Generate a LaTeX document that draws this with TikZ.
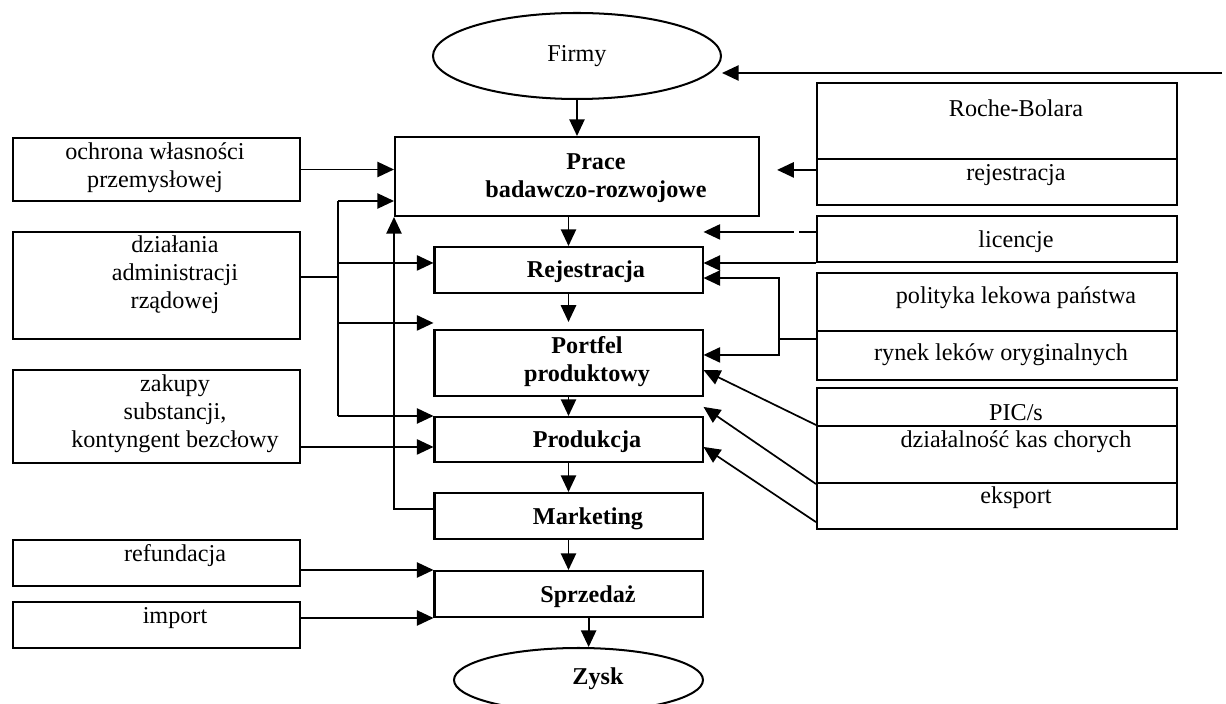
\documentclass[tikz,border=0pt]{standalone}
\usepackage{fontspec}
\setmainfont{Liberation Serif}
\usepackage{tikz}
\usetikzlibrary{arrows.meta,shapes.geometric}
\newcommand{\pxu}{0.4965pt}

\begin{document}
\begin{tikzpicture}[x=\pxu,y=-\pxu,
  box/.style 2 args={draw,line width=1pt,inner sep=0pt,
    minimum width=#1*\pxu,minimum height=#2*\pxu},
  oval/.style 2 args={draw,ellipse,line width=1pt,inner sep=0pt,
    minimum width=#1*\pxu,minimum height=#2*\pxu},
  txt/.style={inner sep=0pt,align=center,font=\fontsize{12}{13.9}\selectfont},
  bold/.style={txt,font=\fontsize{12}{13.9}\selectfont\bfseries},
  con/.style={line width=0.85pt},
  arr/.style={con,-{Triangle[length=8.3pt,width=7.6pt]}}]
\useasboundingbox (0,0) rectangle (1226,704);

% lewa kolumna
\node[box={287}{63}]  (ochrona) at (156.5,169.5) {};
\node[txt] (ochrona-t) at (155,167.5) {ochrona własności\\przemysłowej};
\node[box={287}{107}] (dzialania) at (156.5,285.5) {};
\node[txt] (dzialania-t) at (175,275) {działania\\administracji\\rządowej};
\node[box={287}{93}]  (zakupy) at (156.5,416.5) {};
\node[txt] (zakupy-t) at (175,413.5) {zakupy\\substancji,\\kontyngent bezcłowy};
\node[box={287}{46}]  (refundacja) at (156.5,563) {};
\node[txt] (refundacja-t) at (175,556) {refundacja};
\node[box={287}{46}]  (import) at (156.5,625) {};
\node[txt] (import-t) at (175,618) {import};

% srodek
\node[oval={288}{86},txt] (firmy) at (577,56) {Firmy};
\node[box={364}{79}] (prace) at (577,176.5) {};
\node[bold] (prace-t) at (596,178) {Prace\\badawczo-rozwojowe};
\node[box={268}{46}] (rejestr) at (568.5,270) {};
\node[bold] (rejestr-t) at (586,272) {Rejestracja};
\node[box={268}{66}] (portfel) at (568.5,363) {};
\node[bold] (portfel-t) at (587,361.5) {Portfel\\produktowy};
\node[box={268}{45}] (produkcja) at (568.5,439.5) {};
\node[bold] (produkcja-t) at (587,442) {Produkcja};
\node[box={268}{46}] (marketing) at (568.5,516) {};
\node[bold] (marketing-t) at (588,519) {Marketing};
\node[box={268}{46}] (sprzedaz) at (568.5,594) {};
\node[bold] (sprzedaz-t) at (588,597) {Sprzedaż};
\node[oval={249}{64}] (zysk) at (578.5,680) {};
\node[bold] (zysk-t) at (598,679) {Zysk};

% prawa kolumna
\node[box={360}{76}] (roche) at (997,121) {};
\node[txt] (roche-t) at (1016,108) {Roche-Bolara};
\node[box={360}{46}] (rejR) at (997,182) {};
\node[txt] (rejR-t) at (1016,175) {rejestracja};
\node[box={360}{46}] (licencje) at (997,239) {};
\node[txt] (licencje-t) at (1016,242) {licencje};
\node[box={360}{58}] (polityka) at (997,302) {};
\node[txt] (polityka-t) at (1016,298) {polityka lekowa państwa};
\node[box={360}{49}] (rynek) at (997,355.5) {};
\node[txt] (rynek-t) at (1001,355) {rynek leków oryginalnych};
\node[box={360}{38}] (pics) at (997,407) {};
\node[txt] (pics-t) at (1016,413) {PIC/s};
\node[box={360}{57}] (kasy) at (997,454.5) {};
\node[txt] (kasy-t) at (1016,442) {działalność kas chorych};
\node[box={360}{46}] (eksport) at (997,506) {};
\node[txt] (eksport-t) at (1016,498) {eksport};

% glowny ciag
\coordinate (topR) at (1222,73);
\draw[arr] (topR) -- (topR -| firmy.east);
\draw[arr] (firmy.south) -- (prace.north);
\draw[arr] (rejestr.north |- prace.south) -- (rejestr.north);
\draw[arr] (rejestr.south) -- ([yshift=3.5pt]portfel.north);
\draw[arr] (portfel.south) -- (produkcja.north);
\draw[arr] (produkcja.south) -- (marketing.north);
\draw[arr] (marketing.south) -- (sprzedaz.north);
\draw[arr] ([xshift=10pt]sprzedaz.south) -- ([xshift=10pt]sprzedaz.south |- zysk.north);

% wejscia z lewej
\draw[arr] (ochrona.east) -- (ochrona.east -| prace.west);
\coordinate (bus) at (338,201);
\coordinate (busMid) at (338,277);
\coordinate (toRej) at ([yshift=3.5pt]rejestr.west);
\coordinate (toPort) at ([yshift=3pt]portfel.north west);
\draw[con] (busMid -| dzialania.east) -- (busMid);
\draw[con] (bus) -- (bus |- produkcja.north west);
\draw[arr] (bus) -- (bus -| prace.west);
\draw[arr] (bus |- toRej) -- (toRej);
\draw[arr] (bus |- toPort) -- (toPort);
\draw[arr] (bus |- produkcja.north west) -- (produkcja.north west);
\coordinate (toProd) at ([yshift=-3.7pt]produkcja.west);
\draw[arr] (toProd -| zakupy.east) -- (toProd);
\coordinate (fromMkt) at ([yshift=3.5pt]marketing.west);
\draw[arr] (fromMkt) -| (prace.south west);
\draw[arr] (sprzedaz.north west -| refundacja.east) -- (sprzedaz.north west);
\draw[arr] (sprzedaz.south west -| import.east) -- (sprzedaz.south west);

% wejscia z prawej
\coordinate (fromRoche) at ([yshift=6pt]rejR.west);
\draw[arr,shorten >=8.5pt] (fromRoche) -- (fromRoche -| prace.east);
\coordinate (fromLic) at ([yshift=3.5pt]licencje.west);
\draw[arr,dash pattern=on 8.5pt off 2.5pt on 200pt] (fromLic) -- (fromLic -| rejestr.east);
\draw[arr] (licencje.south west) -- (licencje.south west -| rejestr.east);
\coordinate (brk) at (779,339);
\draw[arr] (brk -| rynek.west) -- (brk) |- ([yshift=-4pt]rejestr.east);
\draw[arr] (brk) |- ([yshift=4pt]portfel.east);
\draw[arr] (kasy.north west) -- ([yshift=-3.5pt]portfel.east);
\draw[arr] (kasy.south west) -- ([yshift=4.5pt]produkcja.north east);
\draw[arr] ([yshift=-8pt]eksport.west) -- ([yshift=-3.7pt]produkcja.east);
\end{tikzpicture}
\end{document}
